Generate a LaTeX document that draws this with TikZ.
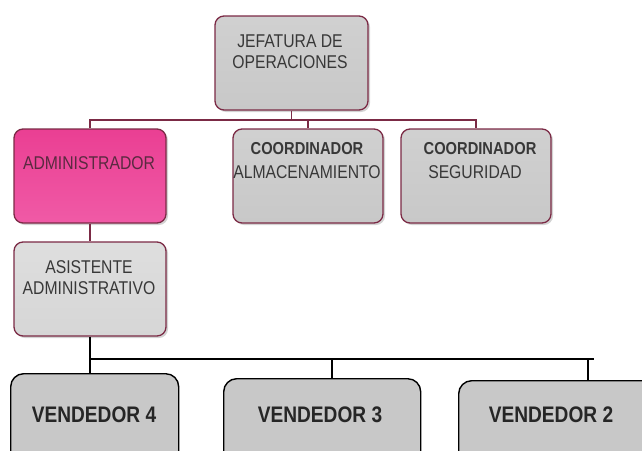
\documentclass[tikz,border=0pt]{standalone}
\usepackage{fontspec}
\setmainfont{Liberation Sans}[FakeStretch=0.85]
\usetikzlibrary{shadows}
\definecolor{boxline}{HTML}{7B2A45}
\definecolor{boxgray}{HTML}{C8C8C8}
\definecolor{boxgraylt}{HTML}{D6D6D6}
\definecolor{pinkfill}{HTML}{EA3F93}
\definecolor{pinklt}{HTML}{F05AA6}
\definecolor{txtgray}{HTML}{383838}
\definecolor{txtpink}{HTML}{5A2A40}
\tikzset{
  upbox/.style={draw=boxline, line width=1.3pt, rounded corners=9pt,
    top color=boxgray!85!white, bottom color=boxgray,
    drop shadow={opacity=0.35, shadow xshift=2pt, shadow yshift=-2pt}},
  vbox/.style={draw=black, line width=1.4pt, rounded corners=13pt, fill=boxgray},
  uptext/.style={font=\fontsize{18.5}{21}\selectfont, text=txtgray, align=center, inner sep=0pt},
  uptextb/.style={font=\fontsize{17.3}{21}\selectfont\bfseries, text=txtgray, align=center, inner sep=0pt},
  vtext/.style={font=\fontsize{22.5}{24}\selectfont\bfseries, text=black!85, inner sep=0pt},
  uline/.style={draw=boxline, line width=1.2pt},
  bline/.style={draw=black, line width=1.3pt}
}
\begin{document}
\begin{tikzpicture}[x=1pt,y=-1pt]
\useasboundingbox (0,0) rectangle (642,450);
% boxes
\node[upbox, minimum width=153pt, minimum height=94pt] (jef) at (291.5,63) {};
\node[upbox, minimum width=152pt, minimum height=94pt, top color=pinkfill, bottom color=pinklt] (adm) at (90,176) {};
\node[upbox, minimum width=150pt, minimum height=94pt] (alm) at (308,176) {};
\node[upbox, minimum width=150pt, minimum height=94pt] (seg) at (476,176) {};
\node[upbox, minimum width=152pt, minimum height=94pt, top color=boxgraylt!80!white, bottom color=boxgraylt] (asi) at (90,289) {};
\node[vbox, minimum width=168pt, minimum height=100pt, anchor=north west] (v4) at (10,373) {};
\node[vbox, minimum width=197pt, minimum height=100pt, anchor=north west] (v3) at (223,378) {};
\node[vbox, minimum width=200pt, minimum height=100pt, anchor=north west] (v2) at (458,380) {};
% texts
\node[uptext] (tjef) at (290,52) {JEFATURA DE\\OPERACIONES};
\node[uptext, text=txtpink] (tadm) at (89,163) {ADMINISTRADOR};
\node[uptextb] (talm1) at (307,149) {COORDINADOR};
\node[uptext] (talm2) at (307,172) {ALMACENAMIENTO};
\node[uptextb] (tseg1) at (480,149) {COORDINADOR};
\node[uptext] (tseg2) at (475,172) {SEGURIDAD};
\node[uptext] (tasi) at (89,277.5) {ASISTENTE\\ADMINISTRATIVO};
\node[vtext] (tv4) at (94,415) {VENDEDOR 4};
\node[vtext] (tv3) at (320,415) {VENDEDOR 3};
\node[vtext] (tv2) at (551,415) {VENDEDOR 2};
% upper connectors
\coordinate (j1) at (291.5,120);
\draw[uline] (jef.south) -- (j1);
\draw[uline] (adm.north) |- (seg.north |- j1) -- (seg.north);
\draw[uline] (alm.north |- j1) -- (alm.north);
\draw[uline] (adm.south) -- (asi.north);
% lower connectors
\coordinate (hl) at (90,359);
\coordinate (hr) at (594,359);
\coordinate (d3) at (332,359);
\coordinate (d2) at (588,359);
\draw[bline] (asi.south) -- (asi.south |- v4.north);
\draw[bline] (hl) -- (hr);
\draw[bline] (d3) -- (d3 |- v3.north);
\draw[bline] (d2) -- (d2 |- v2.north);
\end{tikzpicture}
\end{document}
